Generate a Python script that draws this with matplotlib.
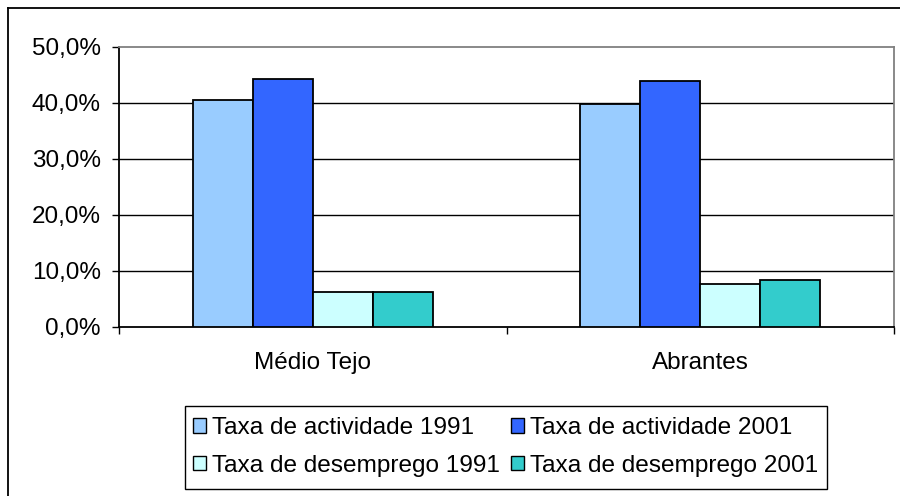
import numpy as np
import matplotlib.pyplot as plt
from matplotlib.ticker import FuncFormatter
from matplotlib.lines import Line2D
from matplotlib.patches import Rectangle

plt.rcParams['font.family'] = ['Liberation Sans', 'DejaVu Sans']

# data
regioes = ['Médio Tejo', 'Abrantes']
series = ['Taxa de actividade 1991', 'Taxa de actividade 2001',
          'Taxa de desemprego 1991', 'Taxa de desemprego 2001']
act_1991 = [40.5, 39.9]
act_2001 = [44.3, 43.9]
des_1991 = [6.3, 7.7]
des_2001 = [6.3, 8.4]
cores = ['#99CCFF', '#3366FF', '#CCFFFF', '#33CCCC']

fig = plt.figure(figsize=(9.0, 4.96), dpi=100)
W, H = 900, 496
ax = fig.add_axes([119 / W, 1 - 327 / H, (894 - 119) / W, (327 - 47) / H])

x = np.arange(len(regioes))
bw = 0.155
vals = [act_1991, act_2001, des_1991, des_2001]
barras = []
for i, v in enumerate(vals):
    b = ax.bar(x + (i - 1.5) * bw, v, bw, color=cores[i], edgecolor='black',
               linewidth=1.3, label=series[i], zorder=3)
    barras.append(b)

ax.set_xlim(-0.5, 1.5)
ax.set_ylim(0, 50)
ax.set_yticks(np.arange(0, 51, 10))
ax.yaxis.set_major_formatter(FuncFormatter(lambda v, p: ('%.1f%%' % v).replace('.', ',')))
ax.set_xticks([-0.5, 0.5, 1.5])
ax.set_xticklabels([])
ax.set_xticks(x, minor=True)
ax.set_xticklabels(regioes, minor=True)
ax.tick_params(axis='x', which='minor', length=0, pad=18, labelsize=17.5)
ax.tick_params(axis='x', which='major', direction='out', length=5, width=1, color='black')
ax.tick_params(axis='y', direction='out', length=5, width=1, pad=8, labelsize=17.5)

for y in [10, 20, 30, 40]:
    ax.axhline(y, color='black', linewidth=1, zorder=1)

ax.spines['top'].set_color('#808080')
ax.spines['right'].set_color('#808080')
ax.spines['left'].set_color('black')
ax.spines['bottom'].set_color('black')
for s in ax.spines.values():
    s.set_linewidth(1.3)

# matplotlib fills legend columns first, so reorder to get row-wise order
ordem = [0, 2, 1, 3]
leg = fig.legend([barras[i] for i in ordem], [series[i] for i in ordem],
                 loc='upper left', bbox_to_anchor=(192.5 / W, 1 - 417 / H), ncol=2,
                 fontsize=17.6, frameon=False,
                 handlelength=0.54, handleheight=0.54, handletextpad=0.25,
                 columnspacing=0.45, borderpad=0, labelspacing=0.64,
                 borderaxespad=0)
for p in leg.get_patches():
    p.set_linewidth(1)

# legend box drawn separately (padding differs horizontally / vertically)
fig.patches.append(Rectangle((185 / W, 1 - 489 / H), (827 - 185) / W, (489 - 406) / H,
                             transform=fig.transFigure, fill=False,
                             edgecolor='black', linewidth=1))

# outer chart border (left and top visible)
fig.add_artist(Line2D([8 / W, 8 / W], [0, 1 - 8 / H], color='black', linewidth=1.3))
fig.add_artist(Line2D([8 / W, 1], [1 - 8 / H, 1 - 8 / H], color='black', linewidth=1.3))

fig.savefig('out.png', dpi=100)
